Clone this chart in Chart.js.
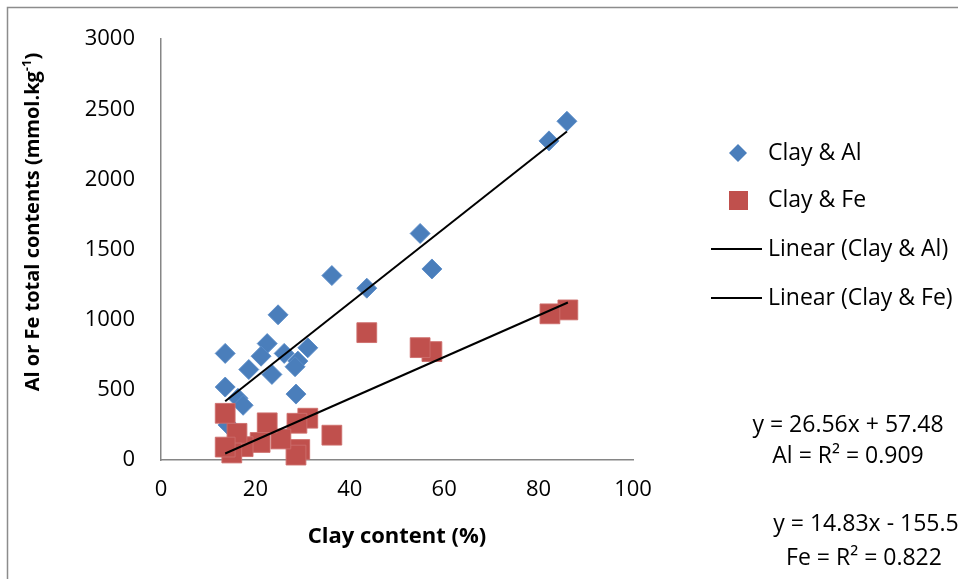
<!DOCTYPE html>
<html>
<head>
<meta charset="utf-8">
<script src="https://cdn.jsdelivr.net/npm/chart.js@4.4.1/dist/chart.umd.min.js"></script>
<style>
  html, body { margin: 0; padding: 0; background: #fff; }
  #wrap { position: relative; width: 958px; height: 579px; }
</style>
</head>
<body>
<div id="wrap"><canvas id="clay-chart" width="958" height="579"></canvas></div>
<script>
// clay content (%) and total Al (mmol/kg) per sample
const CLAY_AL  = [86.0, 82.2, 54.9, 57.4, 43.6, 36.2, 24.8, 22.5, 13.6, 21.2, 26.1, 31.1, 29.0, 28.4, 18.6, 23.5, 13.6, 16.3, 17.4, 28.6, 14.2];
const AL_TOTAL = [2415, 2275, 1615, 1362, 1225, 1315, 1035, 830, 760, 740, 760, 800, 705, 665, 645, 610, 520, 440, 390, 470, 250];

// clay content (%) and total Fe (mmol/kg) per sample
const CLAY_FE  = [86.2, 82.4, 57.4, 54.9, 43.6, 36.2, 31.1, 28.8, 29.4, 28.6, 25.4, 22.5, 21.0, 17.4, 16.1, 15.0, 13.6, 13.6];
const FE_TOTAL = [1070, 1042, 773, 801, 908, 177, 298, 262, 75, 35, 150, 265, 125, 95, 190, 50, 92, 333];

// linear fits: slope, intercept, R²
const AL_FIT = [26.56, 57.48, 0.909];
const FE_FIT = [14.83, -155.5, 0.822];

const X_TICKS = [0, 20, 40, 60, 80, 100];
const Y_TICKS = [0, 500, 1000, 1500, 2000, 2500, 3000];

const C_AL = '#4A7EBB';
const C_FE = '#C0504D';
const AXIS = '#868686';
const FONT = "'Open Sans', sans-serif";

const toPoints = (xs, ys) => xs.map((x, i) => ({ x, y: ys[i] }));

function trend(xs, fit) {
  const lo = Math.min(...xs), hi = Math.max(...xs);
  return [lo, hi].map(x => ({ x, y: fit[0] * x + fit[1] }));
}

function eqText(fit) {
  const sign = fit[1] < 0 ? '-' : '+';
  return 'y = ' + fit[0].toFixed(2) + 'x ' + sign + ' ' + Math.abs(fit[1]);
}

// frame, rotated y title, legend and fit equations
const decor = {
  id: 'decor',
  afterDraw(chart) {
    const ctx = chart.ctx;
    ctx.save();

    ctx.strokeStyle = '#8c8c8c';
    ctx.lineWidth = 1.5;
    ctx.strokeRect(7.5, 7.5, 1200, 1200);

    // y axis title with superscript
    ctx.save();
    ctx.translate(33, 222);
    ctx.rotate(-Math.PI / 2);
    ctx.fillStyle = '#000';
    ctx.textBaseline = 'middle';
    ctx.textAlign = 'left';
    const main = 'Al or Fe total contents (mmol.kg';
    const big = 'bold 20px ' + FONT, small = 'bold 13px ' + FONT;
    ctx.font = big;  const w1 = ctx.measureText(main).width, w3 = ctx.measureText(')').width;
    ctx.font = small; const w2 = ctx.measureText('-1').width;
    let x0 = -(w1 + w2 + w3) / 2;
    ctx.font = big;   ctx.fillText(main, x0, 0);
    ctx.font = small; ctx.fillText('-1', x0 + w1, -6);
    ctx.font = big;   ctx.fillText(')', x0 + w1 + w2, 0);
    ctx.restore();

    // legend
    ctx.font = '23px ' + FONT;
    ctx.textBaseline = 'middle';
    ctx.textAlign = 'left';
    ctx.fillStyle = C_AL;
    ctx.beginPath();
    ctx.moveTo(738, 144); ctx.lineTo(747, 153); ctx.lineTo(738, 162); ctx.lineTo(729, 153);
    ctx.closePath(); ctx.fill();
    ctx.fillStyle = C_FE;
    ctx.fillRect(729, 191, 19, 19);
    ctx.strokeStyle = '#000';
    ctx.lineWidth = 2;
    [249, 298].forEach(y => {
      ctx.beginPath(); ctx.moveTo(711, y); ctx.lineTo(762, y); ctx.stroke();
    });
    ctx.fillStyle = '#000';
    ctx.fillText('Clay & Al', 768, 153);
    ctx.fillText('Clay & Fe', 768, 200);
    ctx.fillText('Linear (Clay & Al)', 768, 249);
    ctx.fillText('Linear (Clay & Fe)', 768, 298);

    // equations
    ctx.textAlign = 'center';
    ctx.fillText(eqText(AL_FIT), 848, 425);
    ctx.fillText('Al = R\u00b2 = ' + AL_FIT[2].toFixed(3), 848, 456);
    ctx.fillText(eqText(FE_FIT), 866, 524);
    ctx.fillText('Fe = R\u00b2 = ' + FE_FIT[2].toFixed(3), 864, 558);

    ctx.restore();
  }
};

new Chart(document.getElementById('clay-chart'), {
  type: 'scatter',
  data: {
    datasets: [
      { label: 'Linear (Clay & Al)', data: trend(CLAY_AL, AL_FIT), showLine: true, borderColor: '#000', borderWidth: 2, pointRadius: 0, order: 0, clip: false },
      { label: 'Linear (Clay & Fe)', data: trend(CLAY_FE, FE_FIT), showLine: true, borderColor: '#000', borderWidth: 2, pointRadius: 0, order: 0, clip: false },
      { label: 'Clay & Fe', data: toPoints(CLAY_FE, FE_TOTAL), pointStyle: 'rect', pointRadius: 14, backgroundColor: C_FE, borderColor: 'rgba(205,110,107,0.9)', borderWidth: 1, order: 1, clip: false },
      { label: 'Clay & Al', data: toPoints(CLAY_AL, AL_TOTAL), pointStyle: 'rectRot', pointRadius: 10, backgroundColor: C_AL, borderColor: 'rgba(90,140,200,0.9)', borderWidth: 1, order: 2, clip: false }
    ]
  },
  options: {
    responsive: false,
    animation: false,
    events: [],
    layout: { padding: { top: 37, right: 325, bottom: 0, left: 0 } },
    plugins: { legend: { display: false }, tooltip: { enabled: false } },
    scales: {
      x: {
        type: 'linear',
        min: X_TICKS[0], max: X_TICKS[X_TICKS.length - 1],
        afterFit: (s) => { s.height = 119; },
        grid: { display: false, drawTicks: false },
        border: { color: AXIS, width: 1.5 },
        ticks: { stepSize: X_TICKS[1] - X_TICKS[0], padding: 17, color: '#000', font: { family: FONT, size: 22 }, callback: (v) => String(v) },
        title: { display: true, text: 'Clay content (%)', color: '#000', font: { family: FONT, size: 22, weight: 'bold' }, padding: { top: 0, bottom: 29 } }
      },
      y: {
        min: Y_TICKS[0], max: Y_TICKS[Y_TICKS.length - 1],
        afterFit: (s) => { s.width = 161; },
        grid: { display: false, drawTicks: false },
        border: { color: AXIS, width: 1.5 },
        ticks: { stepSize: Y_TICKS[1] - Y_TICKS[0], padding: 26, color: '#000', font: { family: FONT, size: 22 }, callback: (v) => String(v) }
      }
    }
  },
  plugins: [decor]
});
</script>
</body>
</html>
